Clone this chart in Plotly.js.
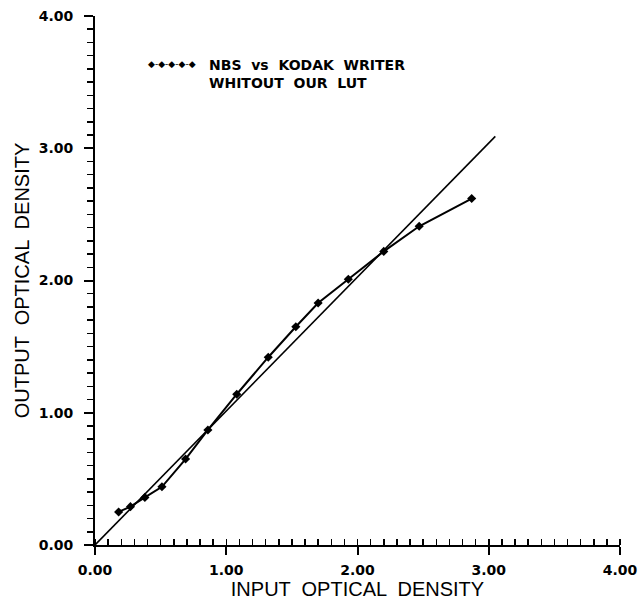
<!DOCTYPE html>
<html><head><meta charset="utf-8">
<script src="https://cdn.plot.ly/plotly-3.0.1.min.js"></script>
<style>html,body{margin:0;padding:0;background:#fff}</style>
</head><body><div id="chart" style="width:638px;height:601px"></div>
<script>
const inputDensity  = [0.18, 0.27, 0.38, 0.51, 0.69, 0.86, 1.08, 1.32, 1.53, 1.70, 1.93, 2.20, 2.47, 2.87];
const outputDensity = [0.25, 0.29, 0.36, 0.44, 0.65, 0.87, 1.14, 1.42, 1.65, 1.83, 2.01, 2.22, 2.41, 2.62];
const refLineX = [0, 3.05];
const refLineY = [0, 3.09];
const legendLines = ['NBS  vs  KODAK  WRITER', 'WHITOUT  OUR  LUT'];
const xTitle = 'INPUT  OPTICAL  DENSITY';
const yTitle = 'OUTPUT  OPTICAL  DENSITY';

const tickFont = {family: 'DejaVu Sans', size: 14, color: '#000', weight: 'bold'};
const titleFont = {family: 'Liberation Sans, Arial, sans-serif', size: 20, color: '#000'};

const traces = [
  {x: refLineX, y: refLineY, mode: 'lines', line: {color: '#000', width: 1.6}, showlegend: false, hoverinfo: 'skip'},
  {x: inputDensity, y: outputDensity, mode: 'lines+markers',
   line: {color: '#000', width: 2},
   marker: {symbol: 'diamond', size: 7, color: '#000'}, showlegend: false}
];

const layout = {
  width: 638, height: 601,
  margin: {l: 95, r: 18, t: 16, b: 56},
  paper_bgcolor: '#fff', plot_bgcolor: '#fff',
  showlegend: false,
  xaxis: {
    range: [0, 4], tickmode: 'linear', tick0: 0, dtick: 1, tickformat: '.2f',
    ticks: 'outside', ticklen: 8, tickwidth: 2, tickcolor: '#000',
    minor: {tick0: 0, dtick: 0.1, ticks: 'inside', ticklen: 6, tickwidth: 1.5, tickcolor: '#000'},
    showline: true, linewidth: 2, linecolor: '#000', showgrid: false, zeroline: false,
    tickfont: tickFont, ticklabelstandoff: 3,
    title: {text: xTitle, font: titleFont, standoff: 2}
  },
  yaxis: {
    range: [0, 4], tickmode: 'linear', tick0: 0, dtick: 1, tickformat: '.2f',
    ticks: 'outside', ticklen: 9, tickwidth: 2, tickcolor: '#000',
    minor: {tick0: 0, dtick: 0.1, ticks: 'outside', ticklen: 6, tickwidth: 1.5, tickcolor: '#000'},
    showline: true, linewidth: 2, linecolor: '#000', showgrid: false, zeroline: false,
    tickfont: tickFont, ticklabelstandoff: 8,
    title: {text: yTitle, font: titleFont, standoff: 4}
  },
  annotations: [
    {xref: 'paper', yref: 'paper', x: 0.097, y: 0.909, xanchor: 'left', yanchor: 'middle',
     text: '◆-◆-◆-◆-◆', showarrow: false, font: {family: 'DejaVu Sans', size: 9, color: '#000'}},
    {xref: 'paper', yref: 'paper', x: 0.213, y: 0.891, xanchor: 'left', yanchor: 'middle', align: 'left',
     text: legendLines.join('<br>'), showarrow: false,
     font: {family: 'DejaVu Sans', size: 14, color: '#000', weight: 'bold'}}
  ]
};

Plotly.newPlot('chart', traces, layout, {displayModeBar: false, staticPlot: true});
</script>
</body></html>
